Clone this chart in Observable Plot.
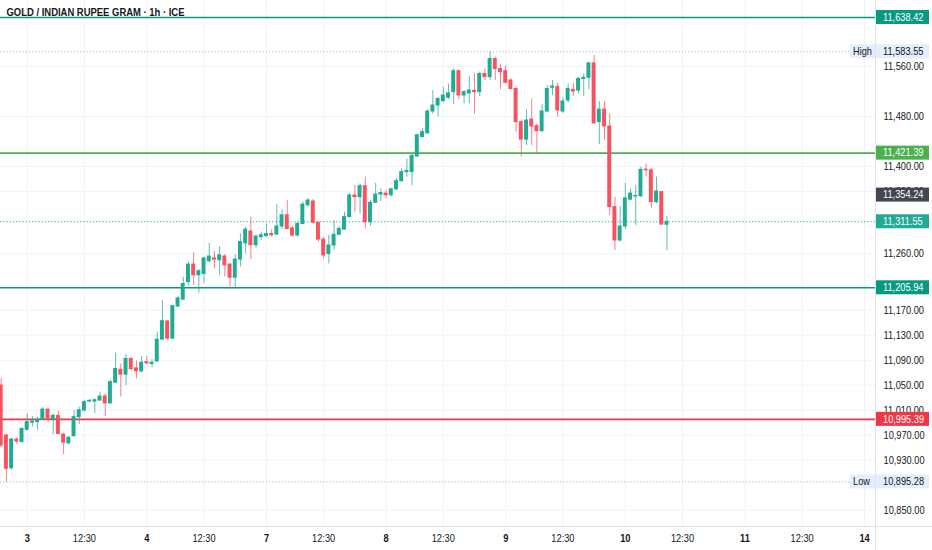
<!DOCTYPE html>
<html>
<head>
<meta charset="utf-8">
<script src="https://cdn.jsdelivr.net/npm/d3@7"></script>
<script src="https://cdn.jsdelivr.net/npm/@observablehq/plot@0.6"></script>
<style>
  html, body { margin: 0; padding: 0; background: #ffffff; }
  #chart { width: 932px; height: 550px; }
</style>
</head>
<body>
<div id="chart"></div>
<script>
// ---------- DATA ----------
const title = "GOLD / INDIAN RUPEE GRAM · 1h · ICE";

const O = [11049.6,10969.6,10917.3,10963,10959,10978.7,10990,10991,10995,11011,10995,11001,10971,10957,10968.5,10999,11009.6,11024,11024,11025.6,
11032,11021,11054,11074.7,11067,11092,11077,11072,11087,11084,11088,11123,11152,11124.5,11176,11187,11215,11243,11226,11228,
11248.5,11253,11250,11256,11243,11222,11251,11277,11296,11274,11287,11288.5,11292,11291,11304,11322,11301,11289.6,11308,11338,
11344,11310,11283,11260,11273.6,11290.7,11299,11319,11353.6,11351,11368.5,11311,11342,11355,11356.6,11354,11363.6,11376.5,11391,11391,
11416,11447,11453,11488,11497.6,11504.5,11510,11519,11552.5,11513.6,11517,11521,11519,11548,11543,11572,11556,11552.5,11537.6,11524,
11471,11443,11475,11464.5,11456.5,11488,11526,11527,11488,11505.6,11522.7,11521.6,11540,11542,11565,11471,11491,11464,11335,11281.6,
11304,11347,11352,11352.5,11395,11394,11343,11359,11306.7];
const H = [11060.8,10972,10965,10966,10982,11004,11000,10999,11015,11012,11004,11008,10973,10968,11009.6,11015,11025.6,11027,11028,11039,
11036,11057.6,11101,11084,11099,11095,11089,11096,11096,11091,11135,11185.6,11153.6,11177.6,11192,11223,11247,11262,11235,11255,
11277,11264,11272,11259,11245,11259,11292,11303,11319,11290,11295,11308,11299,11339,11330.7,11345.6,11305,11311,11343,11349,
11347,11311,11287,11289.6,11313.6,11304,11327,11357,11369.6,11371,11383,11345.6,11373,11364,11362,11365,11381,11396,11412,11419,
11452,11460,11490.7,11521.6,11510,11527,11532,11556,11554,11521.6,11544,11548,11551,11556,11583.55,11575,11563,11561,11540,11527,
11474,11490.7,11508,11468,11499,11529.6,11537.6,11533,11510,11532,11533,11543,11548,11567,11577.6,11504,11504,11484,11351,11336,
11373,11364,11369.6,11399,11404,11397,11383,11359,11320];
const L = [10950,10895.28,10914,10955,10958,10977,10983,10978,10994,10990,10971,10971,10939,10955,10967,10987,11007,11022,11005,11024,
11000,11020,11053,11031,11049.6,11072,11060,11070,11083,11078,11087,11122,11122,11123,11175,11185.6,11209.6,11209.6,11197,11213,
11246,11236,11225.6,11223,11204,11204,11239,11260,11251,11268,11282,11287,11287,11290,11299,11299,11287,11287,11307,11335,
11308,11279,11252,11244,11265.6,11289.6,11298,11318,11327,11324,11300,11304,11341,11344,11348,11351,11361,11375,11383,11369.6,
11415,11446,11452,11484,11479,11502,11507,11499,11506.7,11500,11500,11484,11512,11537.6,11537.6,11537.6,11522.7,11532,11522.7,11455,
11415,11433.6,11433.6,11420,11455,11486,11513.6,11479,11485,11501,11512,11517,11512,11522.7,11468,11435,11441.6,11321.6,11265.6,11279,
11299,11346,11305.6,11350,11383,11333,11340,11305.6,11265.6];
const C = [10953.6,10916.3,10963.2,10960,10980,10991,10992,10995,11011,10995,11001,10972,10958,10966,10999,11010,11023,11025,11026,11032,
11021,11055,11076,11067,11092,11076,11072.5,11086,11085,11086,11123,11152.5,11124.5,11176.5,11189,11212,11243,11226,11232.5,11253,
11256,11251,11258,11242,11222,11251,11279,11299,11274,11288,11290,11292,11290,11304,11322,11300,11289.6,11308,11339,11345.6,
11310,11283,11257.6,11273.6,11290.7,11300,11319,11353.6,11351,11368.5,11311,11342,11355,11357.6,11354,11363.6,11376.5,11391,11393,11417,
11450,11455,11488,11497.6,11508,11513.6,11517,11552.5,11513.6,11519,11521.6,11519,11548,11543,11572,11556,11551,11534,11524,11471,
11443,11473.6,11464,11456.5,11488,11524,11528,11489.6,11504,11524,11520,11540,11542,11565,11469,11491,11464,11335,11281.6,11304,
11349,11356.6,11353,11394.7,11394,11343,11360,11307,11311.55];

// x-axis ticks (candle index -> label)
const dayTickIdx = [5, 28, 51, 74, 97, 120, 143, 166];
const dayTickLabels = ["3", "4", "7", "8", "9", "10", "11", "14"];
const halfTickIdx = [16, 39, 62, 85, 108, 131, 154];
const halfTickLabel = "12:30";

// y-axis ticks
const yTicks = [11560, 11480, 11400, 11360, 11260, 11170, 11130, 11090, 11050, 11010, 10970, 10930, 10850];

// price levels
const levelValues = [11638.42, 11583.55, 11421.39, 11354.24, 11311.55, 11205.94, 10995.39, 10895.28];
const levelTags = ["", "High", "", "", "", "", "", "Low"];

// ---------- STYLES ----------
const FONT = '"Liberation Sans", Arial, sans-serif';
const FS = 10.5;
const UP = "#22ab94", DOWN = "#f7525f";
const levelStyle = [
  {color: "#089981", line: "solid", box: "#089981", text: "#ffffff"},
  {color: "#b2b5be", line: "dotted", box: "#e3effd", text: "#131722"},
  {color: "#4caf50", line: "solid", box: "#4caf50", text: "#ffffff"},
  {color: "#434651", line: "none", box: "#434651", text: "#ffffff"},
  {color: "#22ab94", line: "dotted", box: "#22ab94", text: "#ffffff"},
  {color: "#089981", line: "solid", box: "#089981", text: "#ffffff"},
  {color: "#f23645", line: "solid", box: "#f23645", text: "#ffffff"},
  {color: "#b2b5be", line: "dotted", box: "#e3effd", text: "#131722"}
];

// ---------- BUILD ----------
const candles = d3.range(O.length).map(i => ({i, o: O[i], h: H[i], l: L[i], c: C[i], up: C[i] >= O[i]}));
const levels = levelValues.map((v, k) => ({v, tag: levelTags[k], ...levelStyle[k]}));
const fmt = d3.format(",.2f");

const lineMarks = levels.filter(d => d.line !== "none").map(d =>
  Plot.ruleY([d.v], {
    stroke: d.color,
    strokeWidth: d.line === "solid" ? 1.6 : 1,
    strokeDasharray: d.line === "dotted" ? "1.2,2" : null
  })
);

function labelMark(index, scales, values, dimensions) {
  const {width, height, marginRight, marginBottom} = dimensions;
  const right = width - marginRight;
  const g = d3.create("svg:g").attr("font-family", FONT).attr("font-size", FS).attr("text-anchor", "start");
  g.append("line").attr("x1", right + 0.5).attr("x2", right + 0.5).attr("y1", 0).attr("y2", height)
    .attr("stroke", "#e0e3eb");
  g.append("line").attr("x1", 0).attr("x2", width).attr("y1", height - marginBottom + 0.5).attr("y2", height - marginBottom + 0.5)
    .attr("stroke", "#e0e3eb");
  for (const d of levels) {
    const y = scales.y(d.v);
    if (d.tag) {
      g.append("rect").attr("x", right - 25).attr("y", y - 7).attr("width", 25).attr("height", 14).attr("fill", d.box);
      g.append("text").attr("x", right - 22).attr("y", y).attr("dy", "0.35em").attr("text-anchor", "start")
        .attr("fill", d.text).text(d.tag);
    }
    g.append("rect").attr("x", right + 1).attr("y", y - 7).attr("width", 53).attr("height", 14).attr("fill", d.box);
    g.append("text").attr("x", right + 8).attr("y", y).attr("dy", "0.35em").attr("text-anchor", "start")
      .attr("fill", d.text).text(fmt(d.v));
  }
  return g.node();
}

const chart = Plot.plot({
  width: 932,
  height: 550,
  marginLeft: 0,
  marginRight: 57,
  marginTop: 0,
  marginBottom: 24,
  x: {type: "linear", domain: [-0.135, 168.1], axis: null},
  y: {type: "linear", domain: [10824, 11665.6], axis: null},
  style: {fontFamily: FONT, background: "#ffffff", overflow: "visible", color: "#131722"},
  marks: [
    Plot.gridX([...dayTickIdx, ...halfTickIdx], {stroke: "#f0f3fa", strokeOpacity: 1}),
    Plot.gridY(yTicks, {stroke: "#f0f3fa", strokeOpacity: 1}),
    ...lineMarks,
    Plot.ruleX(candles, {filter: d => d.up, x: "i", y1: "l", y2: "h", stroke: UP, strokeOpacity: 0.75}),
    Plot.ruleX(candles, {filter: d => !d.up, x: "i", y1: "l", y2: "h", stroke: DOWN, strokeOpacity: 0.75}),
    Plot.rect(candles, {filter: d => d.up, x1: d => d.i - 0.38, x2: d => d.i + 0.38, y1: "o", y2: "c",
      fill: UP, insetTop: -0.5, insetBottom: -0.5}),
    Plot.rect(candles, {filter: d => !d.up, x1: d => d.i - 0.38, x2: d => d.i + 0.38, y1: "o", y2: "c",
      fill: DOWN, insetTop: -0.5, insetBottom: -0.5}),
    Plot.axisY(yTicks, {anchor: "right", tickSize: 0, tickPadding: 8, tickFormat: fmt, fontSize: FS,
      color: "#131722", label: null}),
    Plot.axisX(dayTickIdx, {anchor: "bottom", tickSize: 0, tickPadding: 8,
      tickFormat: d => dayTickLabels[dayTickIdx.indexOf(d)], fontSize: FS, fontWeight: "bold",
      color: "#131722", label: null}),
    Plot.axisX(halfTickIdx, {anchor: "bottom", tickSize: 0, tickPadding: 8,
      tickFormat: () => halfTickLabel, fontSize: FS, color: "#131722", label: null}),
    Plot.text([title], {frameAnchor: "top-left", dx: 6, dy: 8, lineAnchor: "top", textAnchor: "start",
      fontWeight: "bold", fontSize: 11, fill: "#131722"}),
    labelMark
  ]
});
document.getElementById("chart").appendChild(chart);

// condense text horizontally to match the narrow UI font of the original
d3.select(chart).selectAll("text").each(function () {
  const t = this.textContent;
  const w = this.getComputedTextLength();
  if (!w) return;
  const target = t === title ? 178 : w * 0.88;
  this.setAttribute("textLength", target);
  this.setAttribute("lengthAdjust", "spacingAndGlyphs");
});
</script>
</body>
</html>
